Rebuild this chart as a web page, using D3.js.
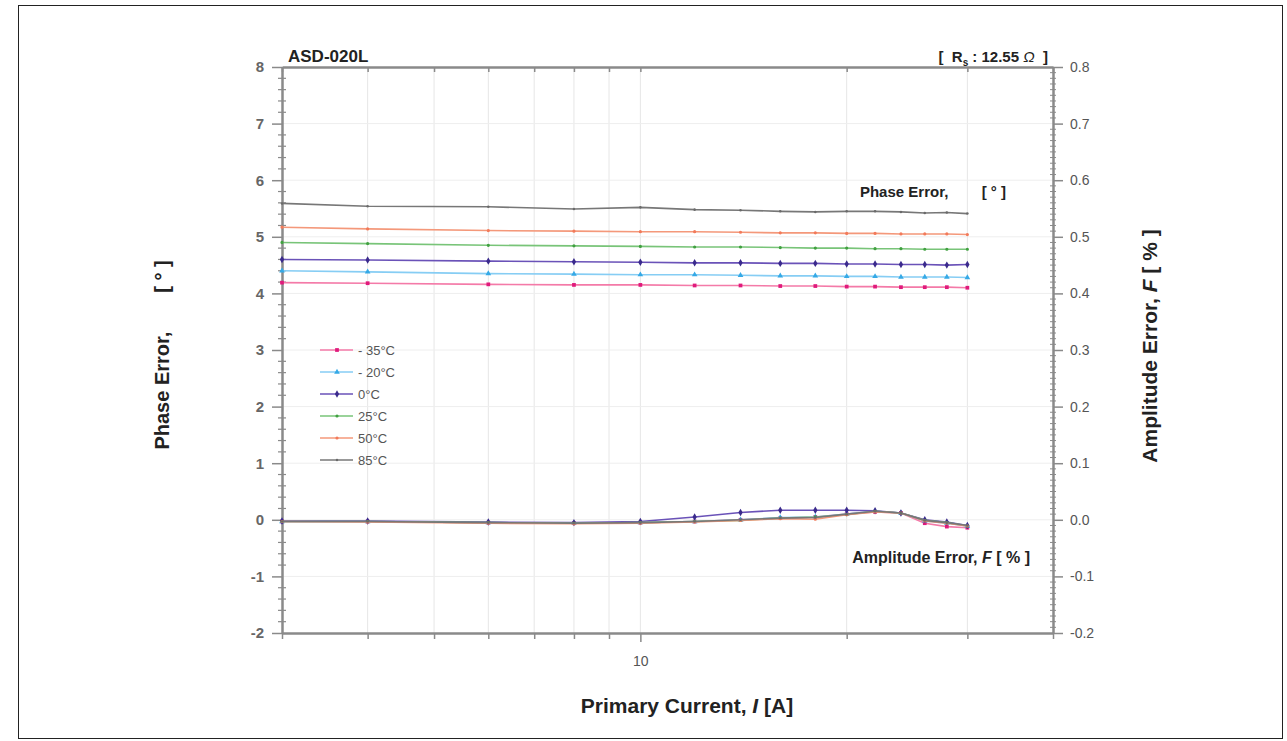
<!DOCTYPE html>
<html>
<head>
<meta charset="utf-8">
<script src="https://cdn.jsdelivr.net/npm/d3@7"></script>
<style>
  body { margin: 0; background: #fff; }
  text { font-family: Arial, "Liberation Sans", sans-serif; }
</style>
</head>
<body>
<div id="chart"></div>
<script>
//Chart data
const currents = [3, 4, 6, 8, 10, 12, 14, 16, 18, 20, 22, 24, 26, 28, 30];
const seriesNames = ["- 35°C", "- 20°C", "0°C", "25°C", "50°C", "85°C"];

//------Phase error [°] per temperature
const phaseM35 = [4.19, 4.18, 4.16, 4.15, 4.15, 4.14, 4.14, 4.13, 4.13, 4.12, 4.12, 4.11, 4.11, 4.11, 4.10];
const phaseM20 = [4.40, 4.38, 4.35, 4.34, 4.33, 4.33, 4.32, 4.31, 4.31, 4.30, 4.30, 4.29, 4.29, 4.29, 4.28];
const phase0 = [4.60, 4.59, 4.57, 4.56, 4.55, 4.54, 4.54, 4.53, 4.53, 4.52, 4.52, 4.51, 4.51, 4.50, 4.51];
const phase25 = [4.90, 4.88, 4.85, 4.84, 4.83, 4.82, 4.82, 4.81, 4.80, 4.80, 4.79, 4.79, 4.78, 4.78, 4.78];
const phase50 = [5.17, 5.14, 5.11, 5.10, 5.09, 5.09, 5.08, 5.07, 5.07, 5.06, 5.06, 5.05, 5.05, 5.05, 5.04];
const phase85 = [5.59, 5.54, 5.53, 5.49, 5.52, 5.48, 5.47, 5.45, 5.44, 5.45, 5.45, 5.44, 5.42, 5.43, 5.41];

//------Amplitude error [%] per temperature
const ampM35 = [-0.003, -0.003, -0.005, -0.006, -0.005, -0.003, 0.000, 0.003, 0.005, 0.010, 0.014, 0.012, -0.006, -0.012, -0.014];
const ampM20 = [-0.003, -0.003, -0.005, -0.006, -0.005, -0.003, 0.000, 0.004, 0.005, 0.010, 0.015, 0.012, -0.002, -0.006, -0.011];
const amp0 = [-0.002, -0.002, -0.004, -0.005, -0.003, 0.005, 0.013, 0.017, 0.017, 0.017, 0.016, 0.012, 0.000, -0.004, -0.010];
const amp25 = [-0.003, -0.003, -0.005, -0.006, -0.005, -0.003, -0.001, 0.003, 0.005, 0.009, 0.015, 0.012, -0.001, -0.005, -0.011];
const amp50 = [-0.003, -0.004, -0.006, -0.007, -0.006, -0.004, -0.001, 0.002, 0.001, 0.009, 0.014, 0.012, -0.002, -0.006, -0.011];
const amp85 = [-0.003, -0.003, -0.005, -0.006, -0.005, -0.003, 0.000, 0.003, 0.004, 0.010, 0.015, 0.012, -0.001, -0.005, -0.010];

//------Axis ticks
const xTicks = [3, 4, 5, 6, 7, 8, 9, 10, 20, 30, 40];
const xLabelTicks = [10];
const yLeftTicks = [-2, -1, 0, 1, 2, 3, 4, 5, 6, 7, 8];
const yRightTicks = [-0.2, -0.1, 0.0, 0.1, 0.2, 0.3, 0.4, 0.5, 0.6, 0.7, 0.8];

const phaseData = [phaseM35, phaseM20, phase0, phase25, phase50, phase85];
const ampData = [ampM35, ampM20, amp0, amp25, amp50, amp85];

//------Colors and markers
const lineColors = ["#f47aa8", "#86cdf4", "#6a52b8", "#78c478", "#f4987a", "#777777"];
const markColors = ["#e01a7c", "#35a9e6", "#3a2a8c", "#40a040", "#f27a5a", "#6a6a6a"];
const markTypes = [d3.symbolSquare, d3.symbolTriangle, d3.symbolDiamond, d3.symbolCircle, d3.symbolCircle, d3.symbolCircle];
const markSizes = [14, 14, 16, 8, 8, 5];

const W = 1287, H = 741;
const svg = d3.select("#chart").append("svg")
  .attr("width", W).attr("height", H);

//------Outer frame
svg.append("rect")
  .attr("x", 18.5).attr("y", 5.5)
  .attr("width", 1264).attr("height", 733)
  .attr("fill", "none").attr("stroke", "#222").attr("stroke-width", 1);

const margin = { top: 67, bottom: 633, left: 282, right: 1053 };

const xScale = d3.scaleLog().domain([3, 40]).range([margin.left, margin.right]);
const yLeft = d3.scaleLinear().domain([-2, 8]).range([margin.bottom, margin.top]);
const yRight = d3.scaleLinear().domain([-0.2, 0.8]).range([margin.bottom, margin.top]);

//------Grid lines
const grid = svg.append("g");
grid.selectAll(".vgrid").data(xTicks.slice(1, -1)).enter().append("line")
  .attr("x1", d => xScale(d)).attr("x2", d => xScale(d))
  .attr("y1", margin.top).attr("y2", margin.bottom)
  .attr("stroke", "#e6e6e6").attr("stroke-width", 1);
grid.selectAll(".hgrid").data(yLeftTicks.slice(1, -1)).enter().append("line")
  .attr("x1", margin.left).attr("x2", margin.right)
  .attr("y1", d => yLeft(d)).attr("y2", d => yLeft(d))
  .attr("stroke", "#eeeeee").attr("stroke-width", 1);

//------Axes
const axisColor = "#8a8a8a";
const hyphen = f => d => f(d).replace("\u2212", "-");
function styleAxis(g) {
  g.selectAll(".domain").attr("stroke", axisColor).attr("stroke-width", 2.5);
  g.selectAll(".tick line").attr("stroke", axisColor).attr("stroke-width", 1.5);
  g.selectAll(".tick text").attr("fill", "#555").attr("font-size", 14)
    .attr("font-family", "Arial, 'Liberation Sans', sans-serif");
}

// bottom
const xAxis = svg.append("g")
  .attr("transform", `translate(0,${margin.bottom})`)
  .call(d3.axisBottom(xScale).tickValues(xTicks).tickSize(6).tickSizeOuter(0)
    .tickFormat(d => xLabelTicks.includes(d) ? d : ""));
styleAxis(xAxis);
xAxis.selectAll(".tick").filter(d => xLabelTicks.includes(d)).select("line").attr("y2", 9);
xAxis.selectAll(".tick text").attr("dy", "1.7em");

// top
const xTop = svg.append("g")
  .attr("transform", `translate(0,${margin.top})`)
  .call(d3.axisTop(xScale).tickValues(xTicks).tickSize(-5).tickSizeOuter(0).tickFormat(""));
styleAxis(xTop);

// left
const yAxisL = svg.append("g")
  .attr("transform", `translate(${margin.left},0)`)
  .call(d3.axisLeft(yLeft).tickValues(yLeftTicks).tickSize(10).tickSizeOuter(0).tickPadding(8)
    .tickFormat(hyphen(d3.format("d"))));
styleAxis(yAxisL);
yAxisL.selectAll(".tick text").attr("font-size", 15).attr("font-weight", "bold").attr("fill", "#666");
const minorL = d3.range(-2, 8.01, 0.2).filter(v => Math.abs(v - Math.round(v)) > 0.01);
svg.append("g").selectAll("line").data(minorL).enter().append("line")
  .attr("x1", margin.left - 4).attr("x2", margin.left + 4)
  .attr("y1", d => yLeft(d)).attr("y2", d => yLeft(d))
  .attr("stroke", axisColor).attr("stroke-width", 1.2);

// right
const yAxisR = svg.append("g")
  .attr("transform", `translate(${margin.right},0)`)
  .call(d3.axisRight(yRight).tickValues(yRightTicks).tickSize(10).tickSizeOuter(0).tickPadding(7)
    .tickFormat(hyphen(d3.format(".1f"))));
styleAxis(yAxisR);
yAxisR.selectAll(".tick text").attr("font-size", 14);
const minorR = d3.range(-0.2, 0.801, 0.01).filter(v => Math.abs(v * 10 - Math.round(v * 10)) > 0.01);
svg.append("g").selectAll("line").data(minorR).enter().append("line")
  .attr("x1", margin.right - 3).attr("x2", margin.right + 3)
  .attr("y1", d => yRight(d)).attr("y2", d => yRight(d))
  .attr("stroke", axisColor).attr("stroke-width", 1);

//------Series lines and markers
const phaseLine = d3.line().x((d, i) => xScale(currents[i])).y(d => yLeft(d));
const ampLine = d3.line().x((d, i) => xScale(currents[i])).y(d => yRight(d));

function drawSeries(values, lineGen, yScale, k) {
  const g = svg.append("g");
  g.append("path").datum(values)
    .attr("d", lineGen).attr("fill", "none")
    .attr("stroke", lineColors[k]).attr("stroke-width", 1.6);
  g.selectAll("path.mark").data(values).enter().append("path")
    .attr("class", "mark")
    .attr("transform", (d, i) => `translate(${xScale(currents[i])},${yScale(d)})`)
    .attr("d", d3.symbol().type(markTypes[k]).size(markSizes[k]))
    .attr("fill", markColors[k]);
}
phaseData.forEach((s, k) => drawSeries(s, phaseLine, yLeft, k));
ampData.forEach((s, k) => drawSeries(s, ampLine, yRight, k));

//------Legend
const legend = svg.append("g").attr("transform", "translate(320,350)");
seriesNames.forEach((name, k) => {
  const row = legend.append("g").attr("transform", `translate(0,${k * 22})`);
  row.append("line").attr("x1", 0).attr("x2", 33).attr("y1", 0).attr("y2", 0)
    .attr("stroke", lineColors[k]).attr("stroke-width", 1.6);
  row.append("path").attr("transform", "translate(17,0)")
    .attr("d", d3.symbol().type(markTypes[k]).size(markSizes[k]))
    .attr("fill", markColors[k]);
  row.append("text").attr("x", 38).attr("y", 4.5)
    .attr("font-size", 13).attr("fill", "#555").text(name);
});

//------Titles and annotations
svg.append("text").attr("x", 288).attr("y", 62)
  .attr("font-size", 17).attr("font-weight", "bold").attr("fill", "#222")
  .text("ASD-020L");

const rs = svg.append("text").attr("x", 1048).attr("y", 62).attr("text-anchor", "end")
  .attr("font-size", 15).attr("font-weight", "bold").attr("fill", "#222")
  .attr("xml:space", "preserve");
rs.append("tspan").text("[  R");
rs.append("tspan").attr("font-size", 10).attr("dy", 4).text("s");
rs.append("tspan").attr("dy", -4).text(" : 12.55 ");
rs.append("tspan").attr("font-style", "italic").attr("font-weight", "normal").text("Ω");
rs.append("tspan").text("  ]");

svg.append("text").attr("x", 1006).attr("y", 197).attr("text-anchor", "end")
  .attr("font-size", 15).attr("font-weight", "bold").attr("fill", "#222")
  .attr("xml:space", "preserve")
  .text("Phase Error,        [ ° ]");

const ampLabel = svg.append("text").attr("x", 1030).attr("y", 563).attr("text-anchor", "end")
  .attr("font-size", 16).attr("font-weight", "bold").attr("fill", "#222");
ampLabel.append("tspan").text("Amplitude Error, ");
ampLabel.append("tspan").attr("font-style", "italic").text("F");
ampLabel.append("tspan").text(" [ % ]");

const xTitle = svg.append("text").attr("x", 687).attr("y", 713).attr("text-anchor", "middle")
  .attr("font-size", 21).attr("font-weight", "bold").attr("fill", "#222");
xTitle.append("tspan").text("Primary Current, ");
xTitle.append("tspan").attr("font-style", "italic").text("I");
xTitle.append("tspan").text(" [A]");

svg.append("text")
  .attr("transform", "translate(169,355) rotate(-90)").attr("text-anchor", "middle")
  .attr("font-size", 20).attr("font-weight", "bold").attr("fill", "#222")
  .attr("xml:space", "preserve")
  .text("Phase Error,       [ ° ]");

const rTitle = svg.append("text")
  .attr("transform", "translate(1157,346) rotate(-90)").attr("text-anchor", "middle")
  .attr("font-size", 21).attr("font-weight", "bold").attr("fill", "#222");
rTitle.append("tspan").text("Amplitude Error, ");
rTitle.append("tspan").attr("font-style", "italic").text("F");
rTitle.append("tspan").text(" [ % ]");
</script>
</body>
</html>
